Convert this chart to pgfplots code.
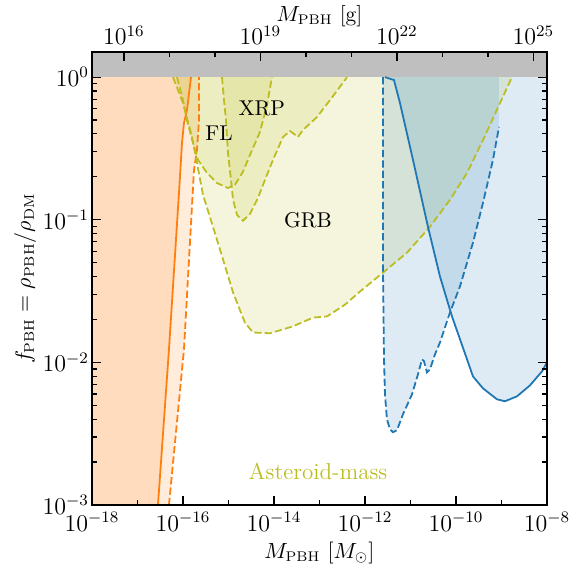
\documentclass[border=0pt]{standalone}
\usepackage{pgfplots}
\pgfplotsset{compat=1.18}

\definecolor{tabblue}{HTML}{1F77B4}
\definecolor{taborange}{HTML}{FF7F0E}
\definecolor{tabolive}{HTML}{BCBD22}
\definecolor{band}{HTML}{BFBFBF}

\pgfplotsset{
  bound/.style={line width=0.9pt},
  bdash/.style={line width=0.9pt, dash pattern=on 3.6pt off 1.6pt},
  region/.style={draw=none, fill opacity=0.15},
  every tick label/.append style={font=\fontsize{11.6}{13}\selectfont},
}

\begin{document}
\begin{tikzpicture}[font=\fontsize{10.7}{12}\selectfont]

\begin{axis}[
  name=main,
  width=227.5pt, height=226.5pt, scale only axis,
  xmode=log, ymode=log,
  xmin=1e-18, xmax=1e-8,
  ymin=1e-3, ymax=1.5,
  xtick={1e-18,1e-16,1e-14,1e-12,1e-10,1e-8},
  minor xtick={1e-17,1e-15,1e-13,1e-11,1e-9},
  xtick pos=bottom,
  ytick={1e-3,1e-2,1e-1,1},
  tick align=inside,
  major tick length=4.5pt, minor tick length=2.5pt,
  axis line style={line width=0.8pt},
  every tick/.style={black, line width=0.6pt},
  yticklabel shift=-2pt,
  xlabel={$M_{\rm PBH}$ $[M_\odot]$},
  every axis x label/.style={at={(axis description cs:0.5,-0.106)}, anchor=center},
  ylabel={$f_{\rm PBH} = \rho_{\rm PBH}/\rho_{\rm DM}$},
  every axis y label/.style={at={(axis description cs:-0.147,0.5)}, rotate=90, anchor=center},
  axis on top,
]

% grey band above f = 1
\addplot [draw=none, fill=band] coordinates {
  (1e-18,1) (1e-8,1) (1e-8,1.5) (1e-18,1.5)} -- cycle;

% evaporation (orange)
\addplot [region, fill=taborange] coordinates {
  (1e-18,1e-3) (2.82e-17,1e-3) (4.92e-17,0.01233) (8.17e-17,0.1545)
  (9.51e-17,0.3455) (1.052e-16,0.4768) (1.225e-16,0.5877) (1.50e-16,1)
  (1e-18,1)} -- cycle;
\addplot [region, fill=taborange] coordinates {
  (1e-18,1e-3) (4.92e-17,1e-3) (1.052e-16,0.01233) (1.355e-16,0.0525)
  (1.746e-16,0.2237) (2.03e-16,0.3087) (2.25e-16,0.501) (2.25e-16,1)
  (1e-18,1)} -- cycle;

% GRB, FL, XRP (olive)
\addplot [region, fill=tabolive] coordinates {
  (6.03e-17,1) (1e-16,0.658) (1.58e-16,0.380) (2.03e-16,0.250) (2.75e-16,0.150)
  (5.59e-16,0.0725) (1.26e-15,0.0309) (2.30e-15,0.0190) (3.46e-15,0.0162)
  (8.17e-15,0.0160) (2.62e-14,0.0179) (7.20e-14,0.0206) (1.46e-13,0.0210)
  (3.63e-13,0.0254) (7.77e-13,0.0314) (2.49e-12,0.0426) (8.38e-12,0.0588)
  (2.68e-11,0.0893) (7.38e-11,0.138) (1.75e-10,0.213) (3.92e-10,0.3625)
  (9.27e-10,0.658) (1.70e-9,1)} -- cycle;
\addplot [region, fill=tabolive] coordinates {
  (7.38e-17,1) (1e-16,0.690) (1.22e-16,0.500) (1.66e-16,0.3455) (2.14e-16,0.263)
  (3.37e-16,0.213) (5.59e-16,0.181) (9.75e-16,0.167) (1.39e-15,0.176)
  (2.08e-15,0.217) (2.97e-15,0.285) (4.92e-15,0.4125) (7.02e-15,0.637)
  (9.04e-15,1)} -- cycle;
\addplot [region, fill=tabolive] coordinates {
  (7.20e-16,1) (7.96e-16,0.690) (8.81e-16,0.500) (9.75e-16,0.294)
  (1.135e-15,0.1905) (1.26e-15,0.138) (1.54e-15,0.108) (2.08e-15,0.0984)
  (2.97e-15,0.110) (4.45e-15,0.1425) (6.34e-15,0.1905) (9.51e-15,0.263)
  (1.58e-14,0.3805) (2.25e-14,0.419) (3.37e-14,0.3805) (4.34e-14,0.426)
  (8.81e-14,0.525) (1.70e-13,0.690) (3.63e-13,0.953) (4.02e-13,1)} -- cycle;

% microlensing (blue)
\addplot [region, fill=tabblue] coordinates {
  (2.49e-12,1) (2.49e-12,0.0426) (2.62e-12,0.0105) (2.75e-12,0.00597)
  (3.04e-12,0.00399) (3.54e-12,0.0034) (4.12e-12,0.00324) (5.05e-12,0.00335)
  (6.84e-12,0.00433) (1.08e-11,0.00597) (1.46e-11,0.00824) (1.79e-11,0.0105)
  (1.98e-11,0.0102) (2.30e-11,0.00851) (2.68e-11,0.00894) (3.46e-11,0.0114)
  (4.45e-11,0.0138) (7.38e-11,0.0224) (1.22e-10,0.034) (2.36e-10,0.069)
  (3.92e-10,0.1315) (6.50e-10,0.263) (8.81e-10,0.447) (8.81e-10,1)} -- cycle;
\addplot [region, fill=tabblue] coordinates {
  (2.75e-12,1) (4.34e-12,0.953) (5.88e-12,0.658) (1.135e-11,0.263)
  (2.42e-11,0.0893) (4.45e-11,0.040) (8.17e-11,0.021) (1.75e-10,0.0105)
  (2.36e-10,0.00798) (3.92e-10,0.00658) (7.96e-10,0.00551) (1.19e-9,0.00534)
  (2.19e-9,0.00578) (4.23e-9,0.0069) (7.77e-9,0.00865) (1e-8,0.01) (1e-8,1)} -- cycle;

% boundaries
\addplot [bound, taborange] coordinates {
  (2.82e-17,1e-3) (4.92e-17,0.01233) (8.17e-17,0.1545) (9.51e-17,0.3455)
  (1.052e-16,0.4768) (1.225e-16,0.5877) (1.50e-16,1)};
\addplot [bdash, taborange] coordinates {
  (4.92e-17,1e-3) (1.052e-16,0.01233) (1.355e-16,0.0525) (1.746e-16,0.2237)
  (2.03e-16,0.3087) (2.25e-16,0.501) (2.25e-16,1)};

\addplot [bdash, tabolive] coordinates {
  (6.03e-17,1) (1e-16,0.658) (1.58e-16,0.380) (2.03e-16,0.250) (2.75e-16,0.150)
  (5.59e-16,0.0725) (1.26e-15,0.0309) (2.30e-15,0.0190) (3.46e-15,0.0162)
  (8.17e-15,0.0160) (2.62e-14,0.0179) (7.20e-14,0.0206) (1.46e-13,0.0210)
  (3.63e-13,0.0254) (7.77e-13,0.0314) (2.49e-12,0.0426) (8.38e-12,0.0588)
  (2.68e-11,0.0893) (7.38e-11,0.138) (1.75e-10,0.213) (3.92e-10,0.3625)
  (9.27e-10,0.658) (1.70e-9,1)};
\addplot [bdash, tabolive] coordinates {
  (7.38e-17,1) (1e-16,0.690) (1.22e-16,0.500) (1.66e-16,0.3455) (2.14e-16,0.263)
  (3.37e-16,0.213) (5.59e-16,0.181) (9.75e-16,0.167) (1.39e-15,0.176)
  (2.08e-15,0.217) (2.97e-15,0.285) (4.92e-15,0.4125) (7.02e-15,0.637)
  (9.04e-15,1)};
\addplot [bdash, tabolive] coordinates {
  (7.20e-16,1) (7.96e-16,0.690) (8.81e-16,0.500) (9.75e-16,0.294)
  (1.135e-15,0.1905) (1.26e-15,0.138) (1.54e-15,0.108) (2.08e-15,0.0984)
  (2.97e-15,0.110) (4.45e-15,0.1425) (6.34e-15,0.1905) (9.51e-15,0.263)
  (1.58e-14,0.3805) (2.25e-14,0.419) (3.37e-14,0.3805) (4.34e-14,0.426)
  (8.81e-14,0.525) (1.70e-13,0.690) (3.63e-13,0.953) (4.02e-13,1)};

\addplot [bdash, tabblue] coordinates {
  (2.49e-12,1) (2.49e-12,0.0426) (2.62e-12,0.0105) (2.75e-12,0.00597)
  (3.04e-12,0.00399) (3.54e-12,0.0034) (4.12e-12,0.00324) (5.05e-12,0.00335)
  (6.84e-12,0.00433) (1.08e-11,0.00597) (1.46e-11,0.00824) (1.79e-11,0.0105)
  (1.98e-11,0.0102) (2.30e-11,0.00851) (2.68e-11,0.00894) (3.46e-11,0.0114)
  (4.45e-11,0.0138) (7.38e-11,0.0224) (1.22e-10,0.034) (2.36e-10,0.069)
  (3.92e-10,0.1315) (6.50e-10,0.263) (8.81e-10,0.447)};
\addplot [bound, tabblue] coordinates {
  (2.75e-12,1) (4.34e-12,0.953) (5.88e-12,0.658) (1.135e-11,0.263)
  (2.42e-11,0.0893) (4.45e-11,0.040) (8.17e-11,0.021) (1.75e-10,0.0105)
  (2.36e-10,0.00798) (3.92e-10,0.00658) (7.96e-10,0.00551) (1.19e-9,0.00534)
  (2.19e-9,0.00578) (4.23e-9,0.0069) (7.77e-9,0.00865) (1e-8,0.01)};

\node at (axis cs:6.2e-16,0.406) {FL};
\node at (axis cs:5.4e-15,0.607) {XRP};
\node at (axis cs:5.6e-14,0.1) {GRB};
\node[text=tabolive, font=\fontsize{11.5}{13}\selectfont] at (axis cs:9.3e-14,1.73e-3) {Asteroid-mass};
\end{axis}

% top axis in grams
\begin{axis}[
  width=227.5pt, height=226.5pt, scale only axis,
  xmode=log, ymode=log,
  xmin=1.989e15, xmax=1.989e25,
  ymin=1e-3, ymax=1.5,
  axis x line*=top, axis y line=none,
  xtick={1e16,1e19,1e22,1e25},
  minor xtick={1e17,1e18,1e20,1e21,1e23,1e24},
  tick align=inside,
  major tick length=4.5pt, minor tick length=2.5pt,
  axis line style={line width=0.8pt},
  every tick/.style={black, line width=0.6pt},
]
\end{axis}

% label of the gram axis
\node[anchor=center, yshift=18pt] at (main.north) {$M_{\rm PBH}$ [g]};

\pgfresetboundingbox
\path[use as bounding box] (main.south west) ++(-46pt,-32pt) rectangle ++(289.5pt,284.5pt);
\end{tikzpicture}
\end{document}
